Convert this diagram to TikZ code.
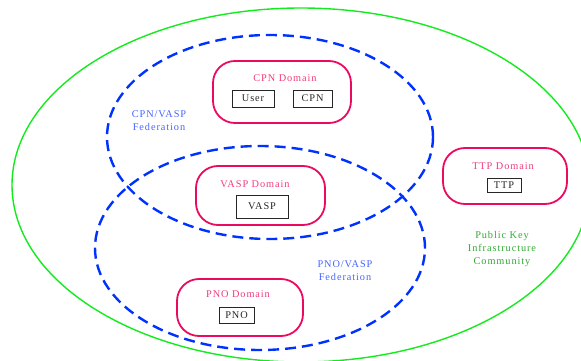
\documentclass[tikz,border=0pt]{standalone}
\usepackage{fontspec}
\setmainfont{Liberation Serif}[LetterSpace=9]
\usetikzlibrary{shapes.geometric}
\definecolor{pkgreen}{RGB}{20,235,30}
\definecolor{pktext}{RGB}{50,170,50}
\definecolor{fedblue}{RGB}{0,50,255}
\definecolor{fedtext}{RGB}{70,100,255}
\definecolor{dompink}{RGB}{235,10,95}
\definecolor{domtext}{RGB}{240,60,125}
\tikzset{
  every node/.style={font=\fontsize{10.3}{13}\selectfont, inner sep=0pt},
  pkiring/.style={draw=pkgreen, line width=1.4pt, ellipse},
  fedring/.style={draw=fedblue, line width=2.4pt, ellipse, dash pattern=on 11pt off 6pt},
  domainbox/.style={draw=dompink, line width=1.8pt, rounded corners=22pt, rectangle},
  domlabel/.style={text=domtext},
  entity/.style={draw=black!85, line width=0.9pt, rectangle, text=black!85},
  fedlabel/.style={text=fedtext, align=center},
  pkilabel/.style={text=pktext, align=center}
}
\begin{document}
\begin{tikzpicture}[x=1pt, y=-1pt]
\useasboundingbox (0,0) rectangle (581,361);
% outer community
\node[pkiring, minimum width=578pt, minimum height=354pt] (pki) at (301,185) {};
% federations
\node[fedring, minimum width=326pt, minimum height=204pt] (fed1) at (270,137) {};
\node[fedring, minimum width=330pt, minimum height=204pt] (fed2) at (260,248) {};
% domains
\node[domainbox, minimum width=138pt, minimum height=62pt] (cpnd) at (282,92) {};
\node[domainbox, minimum width=129pt, minimum height=59pt] (vaspd) at (260.5,195.5) {};
\node[domainbox, minimum width=126pt, minimum height=57pt] (pnod) at (240,307.5) {};
\node[domainbox, minimum width=124pt, minimum height=56pt] (ttpd) at (505,176) {};
% domain labels
\node[domlabel] (cpnl) at (285,78) {CPN Domain};
\node[domlabel] (vaspl) at (255,184) {VASP Domain};
\node[domlabel] (pnol) at (238,294) {PNO Domain};
\node[domlabel] (ttpl) at (503,166) {TTP Domain};
% entities
\node[entity, minimum width=42pt, minimum height=17pt] (user) at (253,98.5) {User};
\node[entity, minimum width=39pt, minimum height=17pt] (cpn) at (312.5,98.5) {CPN};
\node[entity, minimum width=52pt, minimum height=23pt] (vasp) at (262,206.5) {VASP};
\node[entity, minimum width=35pt, minimum height=16pt] (pno) at (236.5,315) {PNO};
\node[entity, minimum width=34pt, minimum height=14pt] (ttp) at (504,185) {TTP};
% federation labels
\node[fedlabel] (fed1l) at (159,120.5) {CPN/VASP\\Federation};
\node[fedlabel] (fed2l) at (345,271) {PNO/VASP\\Federation};
\node[pkilabel] (pkil) at (502,249) {Public Key\\Infrastructure\\Community};
\end{tikzpicture}
\end{document}
